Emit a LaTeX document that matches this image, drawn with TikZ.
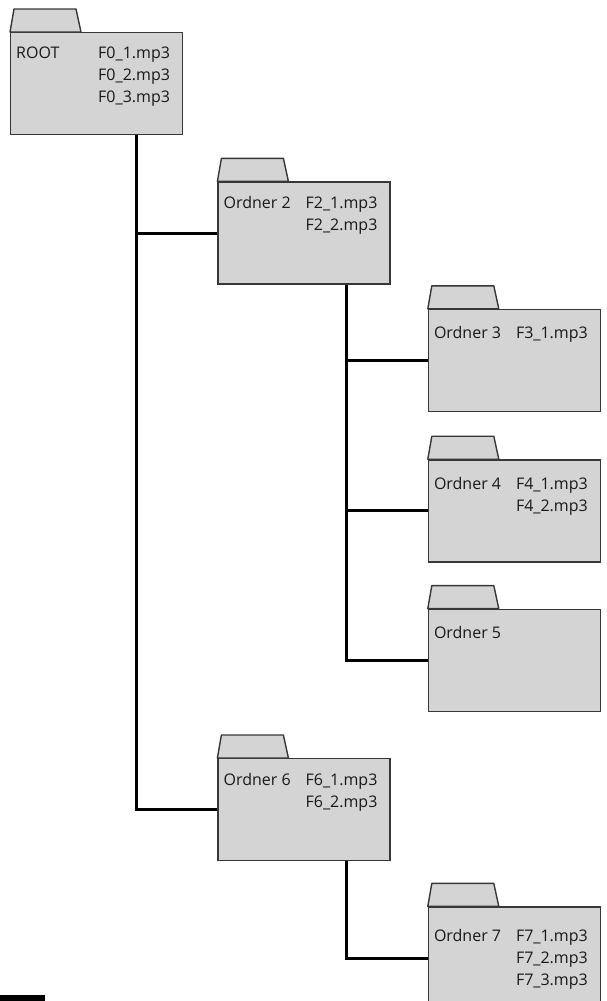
\documentclass[tikz,border=0pt]{standalone}
\usepackage{fontspec}
\setmainfont{Open Sans}
\usetikzlibrary{positioning}

\definecolor{foldergray}{RGB}{212,212,212}
\definecolor{edgegray}{RGB}{55,55,55}

\begin{document}
\begin{tikzpicture}[
    x=1pt, y=1pt,
    folder/.style={rectangle, draw=edgegray, fill=foldergray, line width=1.4pt, minimum width=172pt, minimum height=102pt, inner sep=0pt},
    tab/.style={draw=edgegray, fill=foldergray, line width=1.4pt, line join=round},
    lbl/.style={inner sep=0pt, anchor=base west, text=black!90, font=\fontsize{16}{22}\selectfont},
    conn/.style={line width=3pt, black}
]
\useasboundingbox (0,0) rectangle (606,-1001);

% Folders
\node (root) [folder, anchor=north west] at (10,-32) {};
\node (ord2) [folder, below right=46pt and 34pt of root] {};
\node (ord3) [folder, below right=24pt and 37pt of ord2] {};
\node (ord4) [folder, below=47pt of ord3] {};
\node (ord5) [folder, below=46pt of ord4] {};
\node (ord6) [folder, below left=46pt and 37pt of ord5] {};
\node (ord7) [folder, below right=45pt and 37pt of ord6] {};

% Tabs and texts
\foreach \f/\name/\dy/\files in {
    root/ROOT/26/{F0\_1.mp3\\F0\_2.mp3\\F0\_3.mp3},
    ord2/Ordner 2/27/{F2\_1.mp3\\F2\_2.mp3},
    ord3/Ordner 3/30/{F3\_1.mp3},
    ord4/Ordner 4/30/{F4\_1.mp3\\F4\_2.mp3},
    ord5/Ordner 5/30/{},
    ord6/Ordner 6/27/{F6\_1.mp3\\F6\_2.mp3},
    ord7/Ordner 7/35/{F7\_1.mp3\\F7\_2.mp3\\F7\_3.mp3}}
{
    \draw [tab] (\f.north west) -- ++(4,23) -- ++(62,0) -- ++(5,-23) -- cycle;
    \node (\f-name) [lbl] at ([shift={(6pt,-\dy pt)}]\f.north west) {\name};
    \node (\f-files) [lbl] at ([shift={(88pt,-\dy pt)}]\f.north west) {\begin{tabular}[t]{@{}l@{}}\files\end{tabular}};
}

% Connectors
\draw [conn] ([xshift=-47pt]root.south east) |- (ord2.west);
\draw [conn] ([xshift=-47pt]root.south east) |- (ord6.west);
\draw [conn] ([xshift=-44pt]ord2.south east) |- (ord3.west);
\draw [conn] ([xshift=-44pt]ord2.south east) |- (ord4.west);
\draw [conn] ([xshift=-44pt]ord2.south east) |- (ord5.west);
\draw [conn] ([xshift=-44pt]ord6.south east) |- (ord7.west);

% bar at the lower left
\fill [black] (0,-995) rectangle (45,-1001);

\end{tikzpicture}
\end{document}
